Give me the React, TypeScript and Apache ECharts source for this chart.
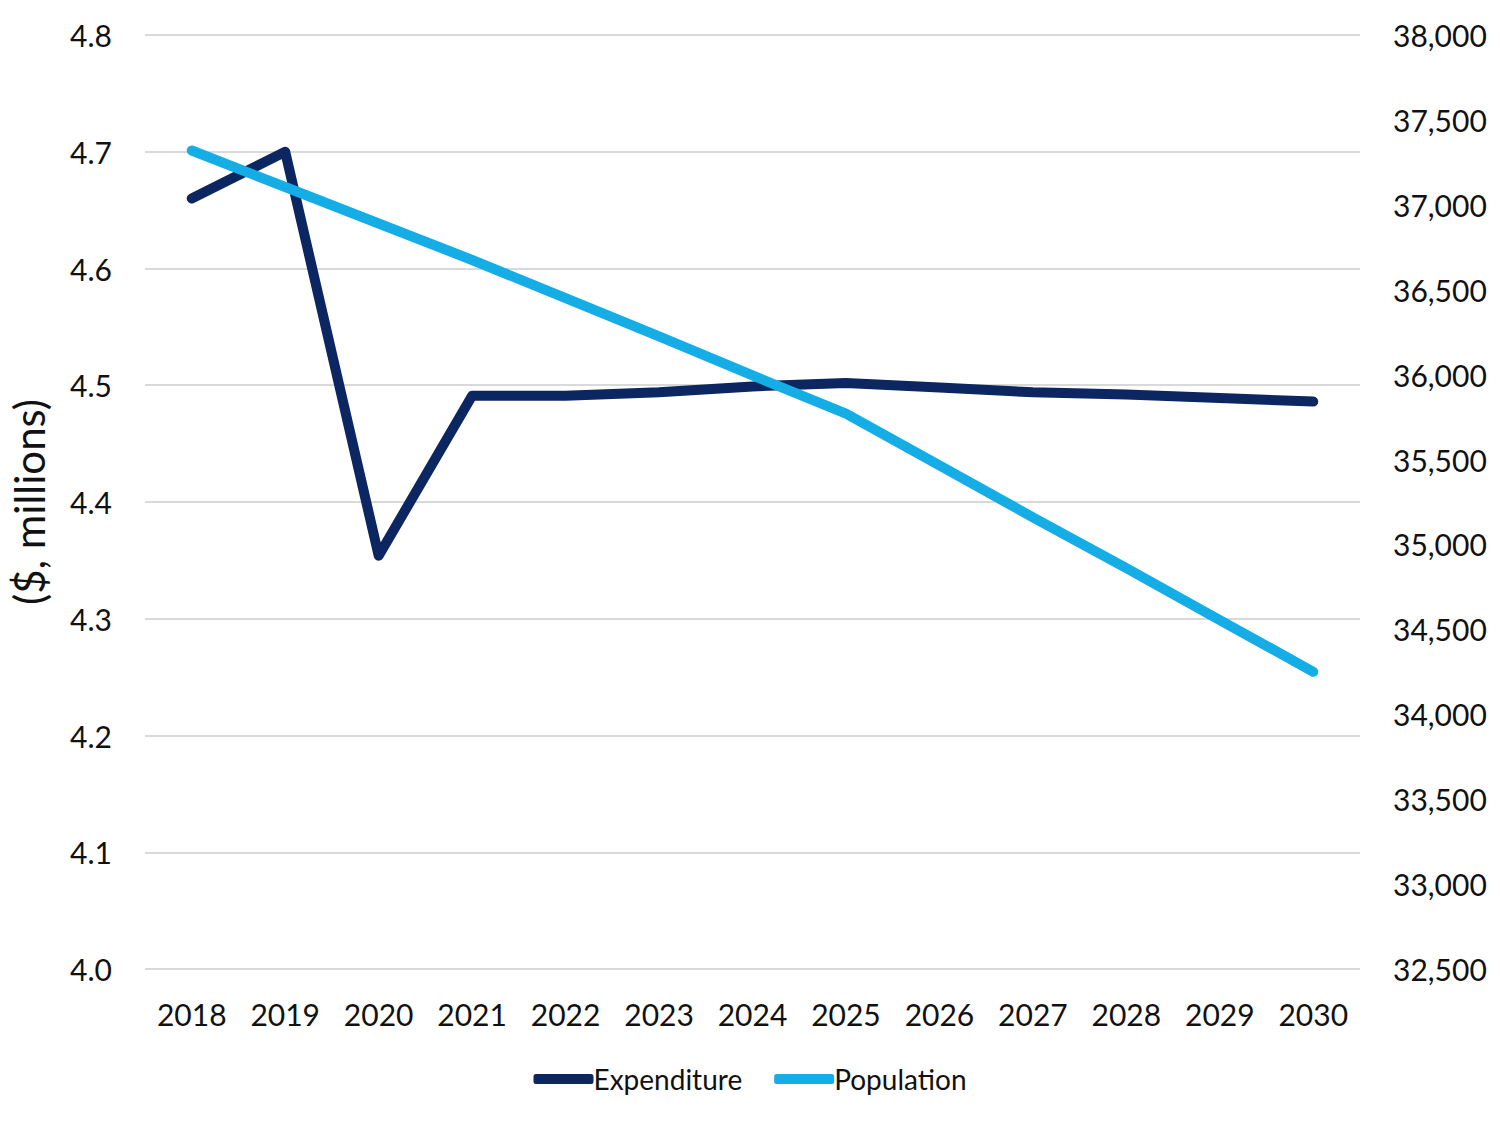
import React, { useEffect, useRef } from "react";
import * as echarts from "echarts";

const years = ["2018", "2019", "2020", "2021", "2022", "2023", "2024", "2025", "2026", "2027", "2028", "2029", "2030"];
const expenditure = [4.66, 4.70, 4.354, 4.491, 4.491, 4.494, 4.499, 4.502, 4.498, 4.494, 4.492, 4.489, 4.486];
const population = [37320, 37105, 36890, 36675, 36450, 36225, 35995, 35770, 35465, 35160, 34860, 34555, 34250];

export default function App() {
  const ref = useRef<HTMLDivElement>(null);
  useEffect(() => {
    if (!ref.current) return;
    const chart = echarts.init(ref.current, null, { renderer: "svg" });
    const font = "Lato, 'Open Sans', sans-serif";
    chart.setOption({
      animation: false,
      backgroundColor: "#ffffff",
      grid: { left: 143, right: 140, top: 35, bottom: 156 },
      legend: {
        bottom: 27,
        left: "center",
        itemWidth: 60,
        itemHeight: 10,
        itemGap: 32,
        icon: "roundRect",
        textStyle: { fontFamily: font, fontSize: 28, color: "#111", padding: [0, 0, 0, -5] },
        data: ["Expenditure", "Population"],
      },
      xAxis: {
        type: "category",
        data: years,
        boundaryGap: true,
        axisLine: { show: false },
        axisTick: { show: false },
        axisLabel: { fontFamily: font, fontSize: 30, color: "#111", margin: 30 },
      },
      yAxis: [
        {
          type: "value",
          min: 4.0,
          max: 4.8,
          interval: 0.1,
          name: "($, millions)",
          nameLocation: "middle",
          nameGap: 95,
          nameTextStyle: { fontFamily: font, fontSize: 42, color: "#111" },
          axisLine: { show: false },
          axisTick: { show: false },
          axisLabel: {
            fontFamily: font,
            fontSize: 30,
            color: "#111",
            margin: 33,
            formatter: (v: number) => v.toFixed(1),
          },
          splitLine: { lineStyle: { color: "#d9d9d9", width: 2 } },
        },
        {
          type: "value",
          min: 32500,
          max: 38000,
          interval: 500,
          position: "right",
          axisLine: { show: false },
          axisTick: { show: false },
          axisLabel: {
            fontFamily: font,
            fontSize: 30,
            color: "#111",
            margin: 33,
            formatter: (v: number) => v.toLocaleString("en-US"),
          },
          splitLine: { show: false },
        },
      ],
      series: [
        {
          name: "Expenditure",
          type: "line",
          data: expenditure,
          yAxisIndex: 0,
          symbol: "none",
          color: "#0b2660",
          lineStyle: { width: 10, color: "#0b2660", cap: "round", join: "round" },
        },
        {
          name: "Population",
          type: "line",
          data: population,
          yAxisIndex: 1,
          symbol: "none",
          color: "#14ade6",
          lineStyle: { width: 10, color: "#14ade6", cap: "round", join: "round" },
        },
      ],
    });
    return () => chart.dispose();
  }, []);
  return (
    <div
      ref={ref}
      style={{ position: "absolute", left: 0, top: 0, width: 1500, height: 1125 }}
    />
  );
}
